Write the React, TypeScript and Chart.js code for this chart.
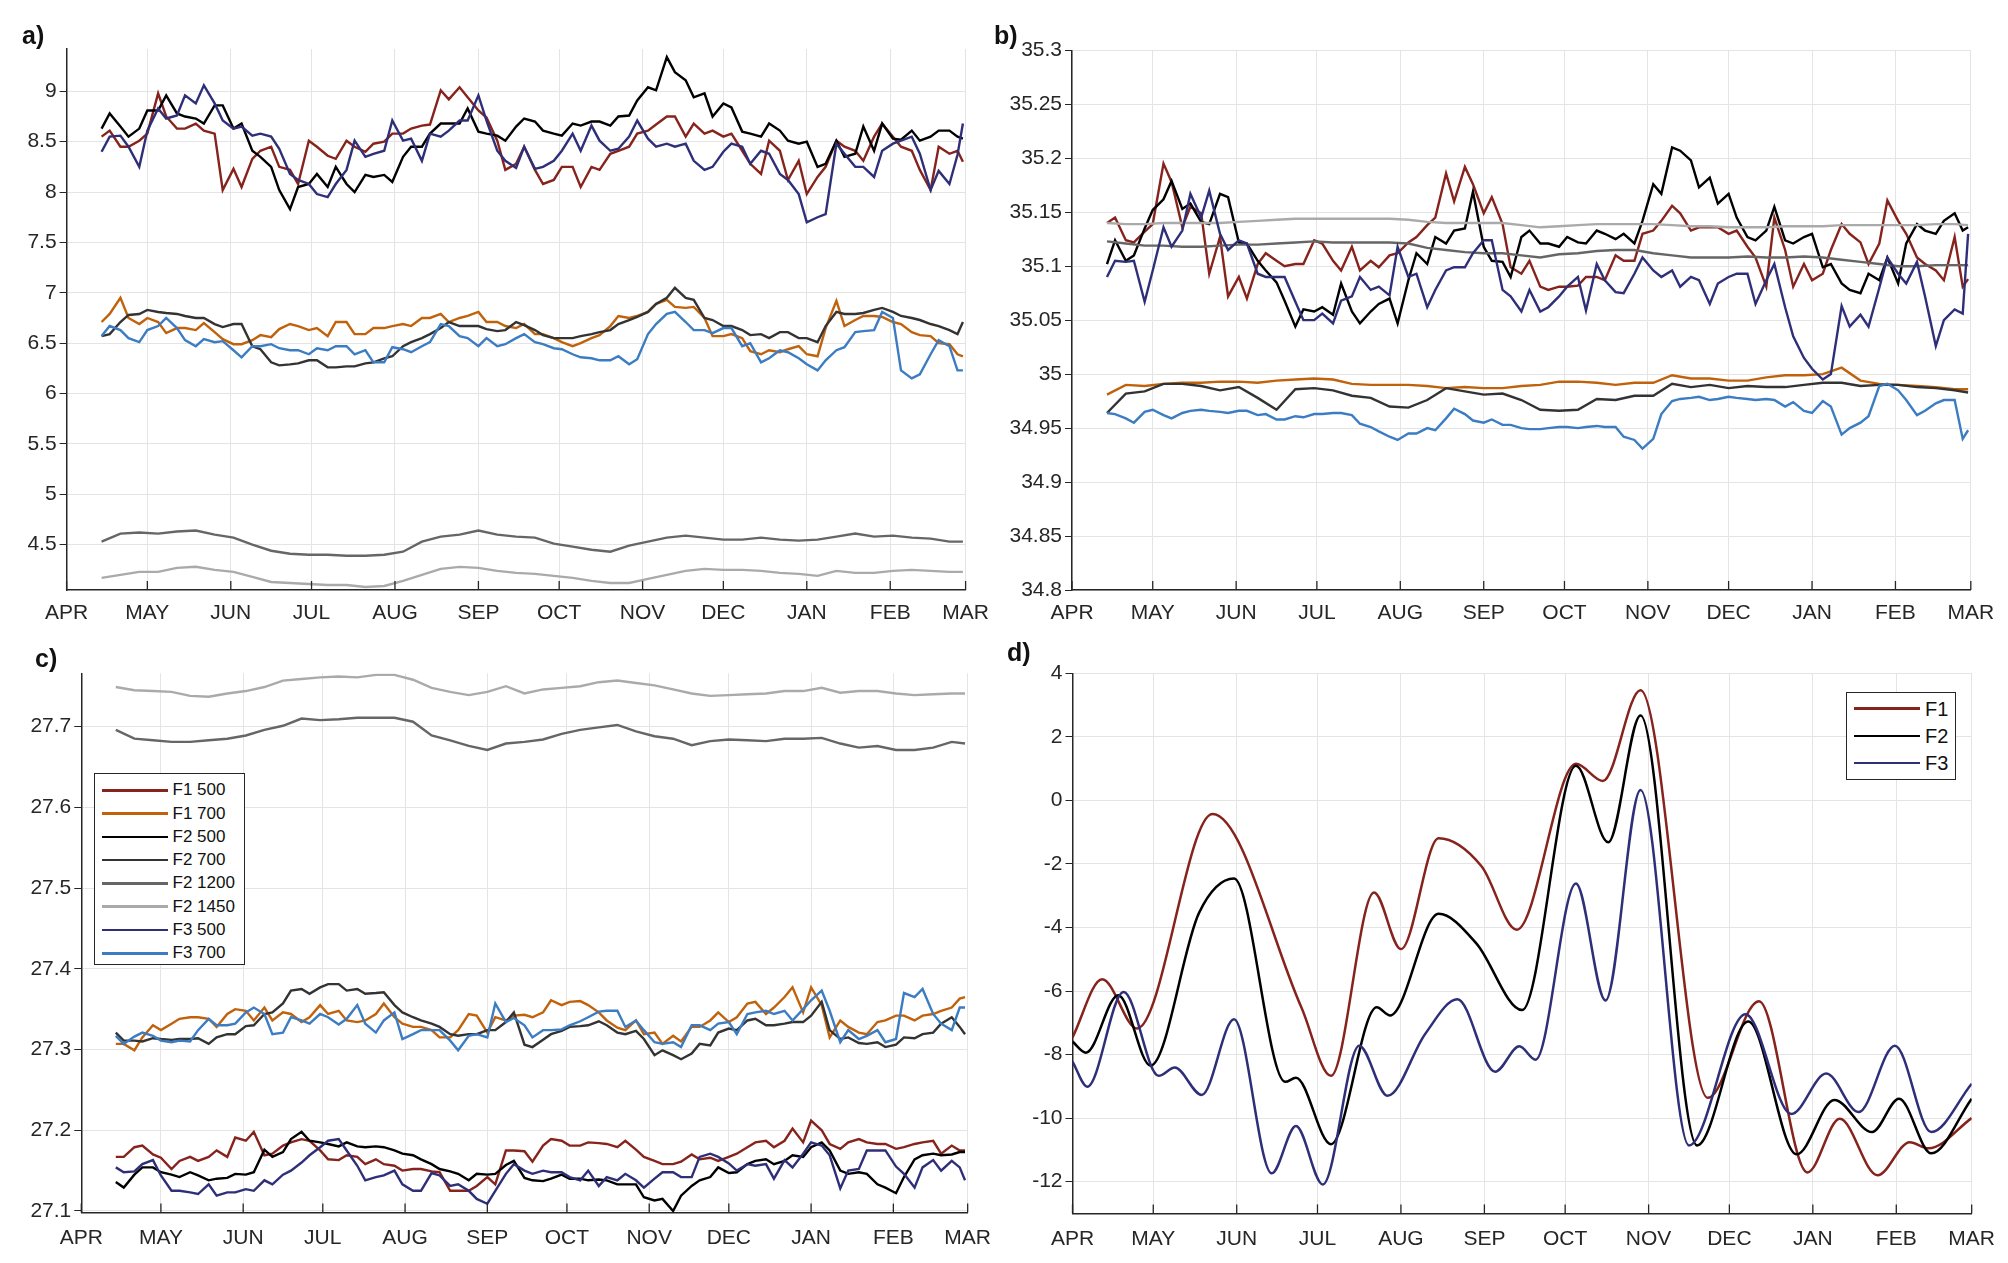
import React, { useEffect, useRef } from 'react';
import { Chart, registerables } from 'chart.js';

Chart.register(...registerables);

// x axis: days since 1 April, month starts as ticks
const MONTH_DAYS = [0, 30, 61, 91, 122, 153, 183, 214, 244, 275, 306, 334];
const MONTH_LABELS = ['APR', 'MAY', 'JUN', 'JUL', 'AUG', 'SEP', 'OCT', 'NOV', 'DEC', 'JAN', 'FEB', 'MAR'];

// weekly readings (smooth records) and twice-weekly readings (noisy records)
const DAYS = [13, 20, 27, 34, 41, 48, 55, 62, 69, 76, 83, 90, 97, 104, 111, 118, 125, 132, 139, 146, 153, 160, 167,
  174, 181, 188, 195, 202, 209, 216, 223, 230, 237, 244, 251, 258, 265, 272, 279, 286, 293, 300, 307, 314, 321, 328, 333];
const FINE_DAYS = [13, 16, 20, 23, 27, 30, 34, 37, 41, 44, 48, 51, 55, 58, 62, 65, 69, 72, 76, 79, 83, 86, 90, 93, 97, 100,
  104, 107, 111, 114, 118, 121, 125, 128, 132, 135, 139, 142, 146, 149, 153, 156, 160, 163, 167, 170, 174, 177, 181, 184,
  188, 191, 195, 198, 202, 205, 209, 212, 216, 219, 223, 226, 230, 233, 237, 240, 244, 247, 251, 254, 258, 261, 265, 268,
  272, 275, 279, 282, 286, 289, 293, 296, 300, 303, 307, 310, 314, 317, 321, 324, 328, 331, 333];

const SERIES_LABELS = ['F1 500', 'F1 700', 'F2 500', 'F2 700', 'F2 1200', 'F2 1450', 'F3 500', 'F3 700'];
const SERIES_COLORS = ['#86231c', '#c0620c', '#000000', '#333333', '#666666', '#aaaaaa', '#2e2f78', '#3b7cc2'];

// a) temperature
const A_F1_500 = [8.55, 8.61, 8.45, 8.45, 8.51, 8.58, 8.98, 8.75, 8.63, 8.63, 8.68, 8.61, 8.58, 8.02, 8.23, 8.05, 8.33, 8.41, 8.45, 8.25,
  8.22, 8.08, 8.51, 8.45, 8.36, 8.33, 8.51, 8.45, 8.40, 8.48, 8.50, 8.58, 8.58, 8.63, 8.66, 8.67, 9.01, 8.92, 9.04, 8.94,
  8.81, 8.74, 8.51, 8.22, 8.28, 8.45, 8.22, 8.08, 8.12, 8.25, 8.25, 8.05, 8.25, 8.22, 8.38, 8.41, 8.45, 8.58, 8.61, 8.67,
  8.75, 8.75, 8.55, 8.68, 8.58, 8.61, 8.55, 8.58, 8.41, 8.28, 8.18, 8.51, 8.41, 8.12, 8.31, 7.98, 8.15, 8.25, 8.51, 8.45,
  8.41, 8.31, 8.55, 8.68, 8.55, 8.45, 8.41, 8.22, 8.02, 8.45, 8.38, 8.41, 8.30];
const A_F1_700 = [6.71, 6.79, 6.95, 6.75, 6.69, 6.75, 6.71, 6.60, 6.65, 6.65, 6.63, 6.70, 6.61, 6.54, 6.49, 6.49, 6.53, 6.58, 6.56, 6.64,
  6.69, 6.67, 6.63, 6.65, 6.57, 6.71, 6.71, 6.59, 6.59, 6.65, 6.65, 6.67, 6.69, 6.67, 6.75, 6.75, 6.79, 6.71, 6.75, 6.77,
  6.81, 6.71, 6.71, 6.67, 6.65, 6.69, 6.59, 6.59, 6.55, 6.51, 6.47, 6.50, 6.55, 6.58, 6.67, 6.77, 6.75, 6.77, 6.81, 6.89,
  6.93, 6.86, 6.85, 6.86, 6.75, 6.57, 6.57, 6.59, 6.55, 6.42, 6.39, 6.43, 6.41, 6.44, 6.47, 6.39, 6.37, 6.65, 6.92, 6.67,
  6.73, 6.77, 6.77, 6.76, 6.71, 6.69, 6.61, 6.58, 6.57, 6.50, 6.49, 6.39, 6.37];
const A_F2_500 = [8.63, 8.78, 8.65, 8.55, 8.63, 8.81, 8.81, 8.96, 8.78, 8.75, 8.73, 8.68, 8.86, 8.86, 8.63, 8.68, 8.41, 8.35, 8.25, 8.02,
  7.83, 8.05, 8.08, 8.18, 8.05, 8.25, 8.08, 8.00, 8.17, 8.15, 8.17, 8.10, 8.35, 8.45, 8.45, 8.58, 8.68, 8.68, 8.68, 8.83,
  8.60, 8.58, 8.56, 8.51, 8.65, 8.73, 8.70, 8.61, 8.58, 8.56, 8.68, 8.66, 8.70, 8.70, 8.66, 8.75, 8.76, 8.91, 9.04, 9.01,
  9.34, 9.19, 9.11, 8.94, 8.98, 8.75, 8.88, 8.84, 8.60, 8.58, 8.55, 8.68, 8.61, 8.51, 8.48, 8.50, 8.25, 8.28, 8.51, 8.35,
  8.38, 8.65, 8.41, 8.68, 8.53, 8.52, 8.61, 8.51, 8.55, 8.61, 8.61, 8.55, 8.53];
const A_F2_700 = [6.57, 6.59, 6.71, 6.78, 6.79, 6.83, 6.81, 6.80, 6.79, 6.77, 6.75, 6.75, 6.69, 6.66, 6.69, 6.69, 6.47, 6.44, 6.31, 6.28,
  6.29, 6.30, 6.33, 6.33, 6.26, 6.26, 6.27, 6.27, 6.30, 6.31, 6.35, 6.37, 6.47, 6.51, 6.55, 6.59, 6.65, 6.71, 6.67, 6.67,
  6.67, 6.64, 6.62, 6.63, 6.71, 6.68, 6.63, 6.58, 6.55, 6.55, 6.55, 6.57, 6.59, 6.61, 6.63, 6.69, 6.73, 6.76, 6.81, 6.89,
  6.95, 7.05, 6.95, 6.93, 6.75, 6.73, 6.67, 6.67, 6.63, 6.58, 6.59, 6.55, 6.61, 6.61, 6.55, 6.55, 6.51, 6.67, 6.81, 6.79,
  6.79, 6.80, 6.83, 6.85, 6.81, 6.77, 6.75, 6.73, 6.69, 6.67, 6.63, 6.59, 6.71];
const A_F2_1200 = [4.53, 4.61, 4.62, 4.61, 4.63, 4.64, 4.60, 4.57, 4.50, 4.44, 4.41, 4.40, 4.40, 4.39, 4.39, 4.40, 4.43, 4.53, 4.58, 4.60, 4.64, 4.60, 4.58,
  4.57, 4.51, 4.48, 4.45, 4.43, 4.49, 4.53, 4.57, 4.59, 4.57, 4.55, 4.55, 4.57, 4.55, 4.54, 4.55, 4.58, 4.61, 4.58, 4.59, 4.57, 4.56, 4.53, 4.53];
const A_F2_1450 = [4.17, 4.20, 4.23, 4.23, 4.27, 4.28, 4.25, 4.23, 4.18, 4.13, 4.12, 4.11, 4.10, 4.10, 4.08, 4.09, 4.14, 4.20, 4.26, 4.28, 4.27, 4.24, 4.22,
  4.21, 4.19, 4.17, 4.14, 4.12, 4.12, 4.16, 4.20, 4.24, 4.26, 4.25, 4.25, 4.24, 4.22, 4.21, 4.19, 4.24, 4.22, 4.22, 4.24, 4.25, 4.24, 4.23, 4.23];
const A_F3_500 = [8.40, 8.55, 8.56, 8.45, 8.25, 8.61, 8.83, 8.73, 8.76, 8.96, 8.88, 9.06, 8.88, 8.71, 8.63, 8.65, 8.56, 8.58, 8.55, 8.43,
  8.18, 8.12, 8.08, 7.98, 7.95, 8.08, 8.22, 8.51, 8.35, 8.38, 8.41, 8.71, 8.51, 8.53, 8.31, 8.58, 8.55, 8.61, 8.71, 8.71,
  8.96, 8.71, 8.41, 8.31, 8.24, 8.45, 8.23, 8.25, 8.31, 8.41, 8.58, 8.41, 8.66, 8.51, 8.41, 8.43, 8.55, 8.71, 8.53, 8.45,
  8.48, 8.45, 8.48, 8.31, 8.22, 8.25, 8.40, 8.48, 8.45, 8.28, 8.41, 8.38, 8.18, 8.12, 7.98, 7.70, 7.75, 7.78, 8.48, 8.38,
  8.25, 8.25, 8.15, 8.41, 8.48, 8.51, 8.55, 8.38, 8.02, 8.21, 8.08, 8.37, 8.68];
const A_F3_700 = [6.57, 6.67, 6.63, 6.55, 6.51, 6.63, 6.67, 6.75, 6.65, 6.53, 6.47, 6.54, 6.51, 6.52, 6.43, 6.36, 6.47, 6.47, 6.49, 6.45,
  6.43, 6.43, 6.39, 6.45, 6.43, 6.47, 6.47, 6.39, 6.43, 6.31, 6.31, 6.46, 6.44, 6.41, 6.47, 6.51, 6.69, 6.67, 6.57, 6.55,
  6.47, 6.55, 6.47, 6.49, 6.55, 6.59, 6.51, 6.49, 6.45, 6.44, 6.39, 6.36, 6.35, 6.33, 6.33, 6.37, 6.29, 6.34, 6.59, 6.69,
  6.79, 6.81, 6.71, 6.63, 6.63, 6.60, 6.65, 6.65, 6.47, 6.50, 6.31, 6.35, 6.43, 6.41, 6.35, 6.29, 6.23, 6.33, 6.43, 6.46,
  6.61, 6.62, 6.63, 6.81, 6.75, 6.23, 6.15, 6.19, 6.39, 6.53, 6.47, 6.23, 6.23];

// b) salinity
const B_F1_500 = [35.140, 35.145, 35.124, 35.122, 35.132, 35.139, 35.195, 35.178, 35.136, 35.155, 35.149, 35.093, 35.127, 35.072, 35.090, 35.070, 35.102, 35.112, 35.105, 35.100,
  35.102, 35.102, 35.124, 35.121, 35.105, 35.096, 35.118, 35.096, 35.105, 35.099, 35.110, 35.112, 35.122, 35.127, 35.138, 35.145, 35.186, 35.160, 35.192, 35.176,
  35.149, 35.164, 35.139, 35.099, 35.093, 35.105, 35.081, 35.078, 35.081, 35.081, 35.082, 35.090, 35.090, 35.087, 35.110, 35.105, 35.105, 35.130, 35.133, 35.142,
  35.156, 35.149, 35.133, 35.136, 35.136, 35.136, 35.130, 35.133, 35.118, 35.108, 35.081, 35.145, 35.115, 35.081, 35.102, 35.087, 35.093, 35.115, 35.139, 35.130,
  35.122, 35.102, 35.121, 35.161, 35.142, 35.130, 35.108, 35.102, 35.096, 35.087, 35.127, 35.081, 35.088];
const B_F1_700 = [34.981, 34.990, 34.989, 34.991, 34.992, 34.992, 34.993, 34.993, 34.992, 34.994, 34.995, 34.996, 34.995, 34.991, 34.990, 34.990, 34.990, 34.989, 34.987, 34.988, 34.987, 34.987, 34.989,
  34.990, 34.993, 34.993, 34.992, 34.990, 34.992, 34.992, 34.999, 34.996, 34.996, 34.994, 34.994, 34.997, 34.999, 34.999, 35.000, 35.006, 34.994, 34.991, 34.990, 34.989, 34.988, 34.986, 34.986];
const B_F2_500 = [35.102, 35.124, 35.105, 35.110, 35.135, 35.152, 35.162, 35.179, 35.153, 35.158, 35.141, 35.139, 35.167, 35.164, 35.122, 35.121, 35.105, 35.096, 35.085, 35.068,
  35.044, 35.060, 35.058, 35.062, 35.055, 35.084, 35.058, 35.047, 35.058, 35.065, 35.070, 35.047, 35.087, 35.112, 35.102, 35.127, 35.121, 35.133, 35.135, 35.169,
  35.118, 35.105, 35.104, 35.090, 35.127, 35.133, 35.121, 35.121, 35.118, 35.127, 35.122, 35.121, 35.133, 35.130, 35.125, 35.130, 35.121, 35.142, 35.176, 35.167,
  35.210, 35.207, 35.198, 35.173, 35.182, 35.158, 35.167, 35.145, 35.127, 35.124, 35.133, 35.155, 35.124, 35.121, 35.127, 35.130, 35.099, 35.102, 35.084, 35.078,
  35.075, 35.093, 35.087, 35.108, 35.084, 35.121, 35.139, 35.133, 35.130, 35.142, 35.149, 35.133, 35.136];
const B_F2_700 = [34.964, 34.982, 34.984, 34.991, 34.991, 34.989, 34.985, 34.988, 34.978, 34.967, 34.986, 34.987, 34.985, 34.980, 34.978, 34.970, 34.969, 34.976, 34.987, 34.984, 34.981, 34.982, 34.976,
  34.967, 34.966, 34.967, 34.977, 34.976, 34.980, 34.980, 34.991, 34.988, 34.990, 34.987, 34.989, 34.988, 34.988, 34.990, 34.992, 34.992, 34.989, 34.990, 34.990, 34.988, 34.987, 34.985, 34.983];
const B_F2_1200 = [35.123, 35.121, 35.119, 35.119, 35.118, 35.118, 35.119, 35.120, 35.120, 35.121, 35.122, 35.123, 35.122, 35.122, 35.122, 35.122, 35.121, 35.117, 35.115, 35.113, 35.112, 35.112, 35.110,
  35.108, 35.111, 35.112, 35.114, 35.115, 35.115, 35.112, 35.110, 35.108, 35.108, 35.108, 35.109, 35.108, 35.108, 35.109, 35.108, 35.106, 35.104, 35.102, 35.100, 35.100, 35.101, 35.101, 35.101];
const B_F2_1450 = [35.140, 35.139, 35.139, 35.140, 35.140, 35.140, 35.140, 35.141, 35.142, 35.143, 35.144, 35.144, 35.144, 35.144, 35.144, 35.144, 35.143, 35.141, 35.140, 35.140, 35.140, 35.140, 35.138,
  35.136, 35.137, 35.138, 35.139, 35.139, 35.139, 35.139, 35.138, 35.137, 35.137, 35.136, 35.136, 35.136, 35.137, 35.137, 35.137, 35.138, 35.138, 35.138, 35.138, 35.138, 35.139, 35.139, 35.138];
const B_F3_500 = [35.090, 35.105, 35.104, 35.105, 35.067, 35.096, 35.136, 35.118, 35.133, 35.167, 35.145, 35.170, 35.130, 35.115, 35.124, 35.121, 35.093, 35.090, 35.090, 35.090,
  35.067, 35.050, 35.050, 35.056, 35.047, 35.068, 35.072, 35.090, 35.078, 35.081, 35.073, 35.118, 35.090, 35.093, 35.062, 35.078, 35.096, 35.099, 35.099, 35.112,
  35.124, 35.124, 35.078, 35.072, 35.058, 35.078, 35.058, 35.062, 35.072, 35.081, 35.090, 35.059, 35.102, 35.087, 35.076, 35.075, 35.093, 35.108, 35.096, 35.090,
  35.096, 35.081, 35.090, 35.087, 35.065, 35.084, 35.090, 35.093, 35.093, 35.065, 35.087, 35.102, 35.062, 35.035, 35.015, 35.005, 34.995, 35.000, 35.063, 35.044,
  35.055, 35.044, 35.080, 35.108, 35.093, 35.084, 35.104, 35.072, 35.026, 35.050, 35.060, 35.056, 35.130];
const B_F3_700 = [34.964, 34.963, 34.959, 34.955, 34.965, 34.967, 34.962, 34.959, 34.964, 34.966, 34.967, 34.966, 34.965, 34.964, 34.966, 34.966, 34.962, 34.963, 34.958, 34.958,
  34.961, 34.960, 34.963, 34.963, 34.964, 34.964, 34.962, 34.954, 34.951, 34.947, 34.942, 34.939, 34.945, 34.945, 34.950, 34.948, 34.959, 34.968, 34.963, 34.957,
  34.955, 34.958, 34.953, 34.953, 34.950, 34.949, 34.949, 34.950, 34.951, 34.951, 34.950, 34.951, 34.952, 34.951, 34.951, 34.942, 34.939, 34.931, 34.940, 34.963,
  34.975, 34.977, 34.978, 34.979, 34.976, 34.977, 34.979, 34.978, 34.977, 34.976, 34.977, 34.976, 34.970, 34.974, 34.966, 34.964, 34.975, 34.970, 34.944, 34.950,
  34.955, 34.961, 34.989, 34.991, 34.985, 34.976, 34.962, 34.966, 34.973, 34.976, 34.976, 34.940, 34.948];

// c) potential density
const C_F1_500 = [27.167, 27.167, 27.179, 27.181, 27.170, 27.166, 27.152, 27.162, 27.167, 27.162, 27.167, 27.175, 27.167, 27.191, 27.187, 27.198, 27.169, 27.171, 27.181, 27.185,
  27.189, 27.187, 27.175, 27.164, 27.163, 27.169, 27.167, 27.158, 27.164, 27.158, 27.156, 27.150, 27.152, 27.152, 27.149, 27.148, 27.125, 27.125, 27.125, 27.131,
  27.142, 27.133, 27.175, 27.175, 27.174, 27.161, 27.181, 27.189, 27.187, 27.181, 27.181, 27.185, 27.184, 27.183, 27.179, 27.187, 27.176, 27.167, 27.162, 27.158,
  27.158, 27.161, 27.170, 27.164, 27.166, 27.162, 27.167, 27.171, 27.179, 27.185, 27.187, 27.179, 27.187, 27.202, 27.185, 27.212, 27.200, 27.183, 27.177, 27.185,
  27.189, 27.185, 27.183, 27.183, 27.177, 27.179, 27.183, 27.185, 27.187, 27.171, 27.181, 27.175, 27.175];
const C_F1_700 = [27.307, 27.307, 27.299, 27.315, 27.330, 27.324, 27.332, 27.338, 27.340, 27.340, 27.338, 27.328, 27.344, 27.350, 27.348, 27.336, 27.352, 27.336, 27.346, 27.344,
  27.334, 27.340, 27.355, 27.344, 27.348, 27.336, 27.334, 27.336, 27.344, 27.357, 27.340, 27.332, 27.328, 27.328, 27.324, 27.315, 27.315, 27.324, 27.344, 27.342,
  27.321, 27.340, 27.336, 27.342, 27.343, 27.340, 27.346, 27.361, 27.355, 27.359, 27.360, 27.355, 27.346, 27.336, 27.327, 27.324, 27.336, 27.319, 27.321, 27.307,
  27.317, 27.310, 27.328, 27.328, 27.336, 27.346, 27.334, 27.340, 27.357, 27.359, 27.344, 27.352, 27.365, 27.377, 27.346, 27.377, 27.355, 27.315, 27.336, 27.328,
  27.321, 27.319, 27.334, 27.336, 27.342, 27.342, 27.336, 27.342, 27.344, 27.348, 27.352, 27.363, 27.365];
const C_F2_500 = [27.136, 27.129, 27.145, 27.154, 27.154, 27.148, 27.145, 27.142, 27.148, 27.144, 27.138, 27.140, 27.141, 27.146, 27.145, 27.148, 27.176, 27.167, 27.173, 27.189,
  27.198, 27.187, 27.185, 27.183, 27.180, 27.185, 27.180, 27.179, 27.180, 27.179, 27.175, 27.171, 27.169, 27.164, 27.158, 27.152, 27.149, 27.146, 27.138, 27.146,
  27.145, 27.146, 27.157, 27.162, 27.141, 27.138, 27.137, 27.140, 27.145, 27.140, 27.140, 27.138, 27.139, 27.138, 27.133, 27.133, 27.133, 27.117, 27.113, 27.115,
  27.100, 27.119, 27.131, 27.138, 27.142, 27.154, 27.147, 27.148, 27.158, 27.162, 27.164, 27.158, 27.162, 27.169, 27.167, 27.179, 27.185, 27.175, 27.150, 27.146,
  27.148, 27.146, 27.133, 27.129, 27.122, 27.142, 27.164, 27.169, 27.171, 27.169, 27.170, 27.173, 27.173];
const C_F2_700 = [27.321, 27.311, 27.311, 27.310, 27.314, 27.313, 27.312, 27.313, 27.313, 27.314, 27.307, 27.315, 27.319, 27.319, 27.329, 27.330, 27.344, 27.346, 27.357, 27.373,
  27.375, 27.369, 27.377, 27.381, 27.381, 27.373, 27.375, 27.369, 27.370, 27.371, 27.355, 27.346, 27.340, 27.336, 27.332, 27.328, 27.319, 27.317, 27.319, 27.319,
  27.324, 27.324, 27.334, 27.346, 27.306, 27.303, 27.312, 27.319, 27.323, 27.328, 27.329, 27.330, 27.335, 27.330, 27.321, 27.319, 27.323, 27.313, 27.293, 27.299,
  27.293, 27.288, 27.295, 27.307, 27.305, 27.321, 27.326, 27.324, 27.336, 27.338, 27.330, 27.330, 27.332, 27.334, 27.334, 27.342, 27.359, 27.324, 27.313, 27.315,
  27.308, 27.307, 27.309, 27.303, 27.306, 27.315, 27.314, 27.319, 27.321, 27.332, 27.340, 27.328, 27.319];
const C_F2_1200 = [27.696, 27.685, 27.683, 27.681, 27.681, 27.683, 27.685, 27.689, 27.696, 27.701, 27.710, 27.708, 27.709, 27.711, 27.711, 27.711, 27.706, 27.689, 27.683, 27.676, 27.671, 27.679, 27.681,
  27.684, 27.691, 27.696, 27.699, 27.702, 27.694, 27.688, 27.685, 27.677, 27.682, 27.684, 27.683, 27.682, 27.685, 27.685, 27.686, 27.679, 27.674, 27.676, 27.671, 27.671, 27.674, 27.681, 27.679];
const C_F2_1450 = [27.749, 27.745, 27.744, 27.743, 27.738, 27.737, 27.741, 27.744, 27.749, 27.757, 27.759, 27.761, 27.762, 27.761, 27.764, 27.764, 27.758, 27.748, 27.743, 27.739, 27.743, 27.750, 27.741,
  27.746, 27.748, 27.750, 27.755, 27.757, 27.754, 27.751, 27.746, 27.741, 27.738, 27.739, 27.740, 27.741, 27.744, 27.744, 27.748, 27.742, 27.744, 27.744, 27.741, 27.739, 27.740, 27.741, 27.741];
const C_F3_500 = [27.154, 27.148, 27.149, 27.158, 27.163, 27.144, 27.125, 27.125, 27.123, 27.121, 27.133, 27.119, 27.123, 27.123, 27.127, 27.125, 27.138, 27.133, 27.145, 27.150,
  27.160, 27.169, 27.179, 27.187, 27.189, 27.175, 27.156, 27.138, 27.142, 27.144, 27.150, 27.133, 27.125, 27.125, 27.147, 27.144, 27.131, 27.133, 27.125, 27.115,
  27.109, 27.125, 27.146, 27.158, 27.150, 27.146, 27.150, 27.148, 27.148, 27.142, 27.138, 27.150, 27.131, 27.142, 27.138, 27.146, 27.138, 27.129, 27.140, 27.148,
  27.148, 27.142, 27.142, 27.167, 27.171, 27.167, 27.159, 27.150, 27.158, 27.156, 27.158, 27.140, 27.163, 27.154, 27.171, 27.185, 27.181, 27.169, 27.128, 27.150,
  27.152, 27.175, 27.175, 27.175, 27.155, 27.146, 27.129, 27.154, 27.163, 27.150, 27.162, 27.154, 27.138];
const C_F3_700 = [27.317, 27.307, 27.316, 27.321, 27.317, 27.311, 27.309, 27.311, 27.310, 27.324, 27.338, 27.330, 27.330, 27.332, 27.346, 27.352, 27.344, 27.319, 27.321, 27.340,
  27.336, 27.332, 27.344, 27.340, 27.331, 27.338, 27.355, 27.332, 27.321, 27.336, 27.346, 27.313, 27.319, 27.324, 27.324, 27.324, 27.311, 27.299, 27.317, 27.319,
  27.315, 27.357, 27.334, 27.339, 27.330, 27.315, 27.324, 27.324, 27.325, 27.330, 27.335, 27.340, 27.347, 27.348, 27.348, 27.328, 27.336, 27.324, 27.309, 27.307,
  27.309, 27.303, 27.330, 27.330, 27.324, 27.332, 27.334, 27.319, 27.344, 27.346, 27.348, 27.344, 27.348, 27.336, 27.350, 27.361, 27.373, 27.348, 27.309, 27.324,
  27.313, 27.317, 27.324, 27.309, 27.313, 27.370, 27.365, 27.375, 27.344, 27.332, 27.324, 27.352, 27.352];

// d) smoothed index per mooring (turning points)
const D_LABELS = ['F1', 'F2', 'F3'];
const D_COLORS = ['#86231c', '#000000', '#2e2f78'];
const D_F1_DAYS = [0, 11, 24, 52, 85, 96, 112, 122, 136, 152, 165, 187, 197, 211, 236, 255, 273, 285, 299, 311, 318, 334];
const D_F1_VALS = [-7.46, -5.63, -7.18, -0.43, -6.51, -8.67, -2.9, -4.68, -1.19, -2.08, -4.07, 1.15, 0.61, 3.47, -9.36, -6.32, -11.71, -10.02, -11.8, -10.76, -10.95, -10.0];
const D_F2_DAYS = [0, 5, 17, 29, 47, 60, 79, 83, 96, 113, 118, 136, 150, 167, 187, 199, 211, 232, 251, 269, 283, 297, 307, 319, 334];
const D_F2_VALS = [-7.59, -7.94, -6.13, -8.35, -3.54, -2.46, -8.86, -8.73, -10.82, -6.51, -6.77, -3.57, -4.5, -6.6, 1.09, -1.32, 2.67, -10.86, -6.96, -11.14, -9.43, -10.44, -9.39, -11.11, -9.39];
const D_F3_DAYS = [0, 5.5, 19, 32, 38, 48, 60, 74, 83, 93, 106.5, 117, 131, 143, 157, 166, 172, 187, 198, 211, 229, 250, 267, 280, 292, 305.5, 319, 334];
const D_F3_VALS = [-8.22, -9.01, -6.03, -8.67, -8.41, -9.27, -6.89, -11.74, -10.25, -12.09, -7.72, -9.30, -7.35, -6.26, -8.54, -7.74, -8.16, -2.62, -6.30, 0.33, -10.86, -6.73, -9.87, -8.6, -9.81, -7.72, -10.44, -8.92];

const A_TICKS = [4.5, 5, 5.5, 6, 6.5, 7, 7.5, 8, 8.5, 9];
const A_TICK_LABELS = ['4.5', '5', '5.5', '6', '6.5', '7', '7.5', '8', '8.5', '9'];
const B_TICKS = [34.8, 34.85, 34.9, 34.95, 35, 35.05, 35.1, 35.15, 35.2, 35.25, 35.3];
const B_TICK_LABELS = ['34.8', '34.85', '34.9', '34.95', '35', '35.05', '35.1', '35.15', '35.2', '35.25', '35.3'];
const C_TICKS = [27.1, 27.2, 27.3, 27.4, 27.5, 27.6, 27.7];
const C_TICK_LABELS = ['27.1', '27.2', '27.3', '27.4', '27.5', '27.6', '27.7'];
const D_TICKS = [-12, -10, -8, -6, -4, -2, 0, 2, 4];
const D_TICK_LABELS = ['-12', '-10', '-8', '-6', '-4', '-2', '0', '2', '4'];

const FONT = '"Liberation Sans", Arial, Helvetica, sans-serif';
const AXIS_COLOR = '#262626';
const GRID_COLOR = '#e4e4e4';

type Series = [number[], number[]];

const mooringSets = (series: Series[]) =>
  series.map(([days, vals], i) => ({
    label: SERIES_LABELS[i],
    data: vals.map((v, j) => ({ x: days[j], y: v })),
    borderColor: SERIES_COLORS[i],
    backgroundColor: SERIES_COLORS[i],
    borderWidth: 2.4,
    pointRadius: 0,
    tension: 0,
    order: series.length - i,
  }));

const smoothSets = () =>
  ([[D_F1_DAYS, D_F1_VALS], [D_F2_DAYS, D_F2_VALS], [D_F3_DAYS, D_F3_VALS]] as Series[]).map(([days, vals], i) => ({
    label: D_LABELS[i],
    data: vals.map((v, j) => ({ x: days[j], y: v })),
    borderColor: D_COLORS[i],
    backgroundColor: D_COLORS[i],
    borderWidth: 2.5,
    pointRadius: 0,
    cubicInterpolationMode: 'monotone' as const,
    order: 3 - i,
  }));

// month ticks point into the plot, like the original figure
const innerTicks = {
  id: 'innerTicks',
  afterDraw(chart: any) {
    const { ctx, chartArea, scales } = chart;
    const xs = scales.x;
    ctx.save();
    ctx.strokeStyle = AXIS_COLOR;
    ctx.lineWidth = 1.3;
    xs.ticks.forEach((t: any) => {
      const px = xs.getPixelForValue(t.value);
      ctx.beginPath();
      ctx.moveTo(px, chartArea.bottom);
      ctx.lineTo(px, chartArea.bottom - 9);
      ctx.stroke();
    });
    ctx.restore();
  },
};

interface PanelProps {
  left: number;
  top: number;
  width: number;
  height: number;
  plot: { left: number; top: number; right: number; bottom: number };
  datasets: any[];
  yMin: number;
  yMax: number;
  yTicks: number[];
  yLabels: string[];
  xPad: number;
}

const Panel: React.FC<PanelProps> = ({ left, top, width, height, plot, datasets, yMin, yMax, yTicks, yLabels, xPad }) => {
  const canvasRef = useRef<HTMLCanvasElement>(null);

  useEffect(() => {
    if (!canvasRef.current) return;
    const ctx = canvasRef.current.getContext('2d');
    if (!ctx) return;

    const tickFont = { family: FONT, size: 21 };
    const chart = new Chart(ctx, {
      type: 'line',
      data: { datasets },
      options: {
        animation: false,
        responsive: false,
        layout: { padding: { left: 0, top: plot.top, right: width - plot.right, bottom: 0 } },
        plugins: { legend: { display: false }, tooltip: { enabled: false } },
        scales: {
          x: {
            type: 'linear',
            min: 0,
            max: 334,
            afterBuildTicks: (s: any) => {
              s.ticks = MONTH_DAYS.map((v) => ({ value: v }));
            },
            afterFit: (s: any) => {
              s.height = height - plot.bottom;
            },
            ticks: {
              autoSkip: false,
              maxRotation: 0,
              padding: xPad,
              color: AXIS_COLOR,
              font: tickFont,
              callback: (_v: any, i: number) => MONTH_LABELS[i],
            },
            grid: { color: GRID_COLOR, lineWidth: 1, drawTicks: false },
            border: { display: true, color: AXIS_COLOR, width: 1.5 },
          },
          y: {
            type: 'linear',
            min: yMin,
            max: yMax,
            afterBuildTicks: (s: any) => {
              s.ticks = yTicks.map((v) => ({ value: v }));
            },
            afterFit: (s: any) => {
              s.width = plot.left;
            },
            ticks: {
              padding: 3,
              color: AXIS_COLOR,
              font: tickFont,
              callback: (_v: any, i: number) => yLabels[i],
            },
            grid: { color: GRID_COLOR, lineWidth: 1, drawTicks: true, tickLength: 7, tickColor: AXIS_COLOR },
            border: { display: true, color: AXIS_COLOR, width: 1.5 },
          },
        },
      } as any,
      plugins: [innerTicks],
    });

    return () => {
      chart.destroy();
    };
  }, []);

  return (
    <canvas
      ref={canvasRef}
      width={width}
      height={height}
      style={{ position: 'absolute', left, top, width, height }}
    />
  );
};

const PanelLabel: React.FC<{ text: string; left: number; top: number }> = ({ text, left, top }) => (
  <div
    style={{
      position: 'absolute',
      left,
      top,
      fontFamily: FONT,
      fontWeight: 'bold',
      fontSize: 25,
      lineHeight: '25px',
      color: '#111',
    }}
  >
    {text}
  </div>
);

interface LegendProps {
  left: number;
  top: number;
  width: number;
  height: number;
  labels: string[];
  colors: string[];
  firstRow: number;
  rowStep: number;
  fontSize: number;
}

const BoxLegend: React.FC<LegendProps> = ({ left, top, width, height, labels, colors, firstRow, rowStep, fontSize }) => (
  <div
    style={{
      position: 'absolute',
      left,
      top,
      width,
      height,
      boxSizing: 'border-box',
      border: `1.3px solid ${AXIS_COLOR}`,
      background: '#fff',
      fontFamily: FONT,
      fontSize,
      color: '#111',
    }}
  >
    {labels.map((label, i) => (
      <div
        key={label}
        style={{
          position: 'absolute',
          left: 7,
          top: firstRow + i * rowStep - 12,
          height: 24,
          display: 'flex',
          alignItems: 'center',
          whiteSpace: 'nowrap',
        }}
      >
        <span style={{ display: 'inline-block', width: 66, height: 2.6, background: colors[i] }} />
        <span style={{ marginLeft: 5, lineHeight: '24px' }}>{label}</span>
      </div>
    ))}
  </div>
);

export default function App() {
  return (
    <div style={{ position: 'absolute', left: 0, top: 0, width: 2008, height: 1263, background: '#fff', overflow: 'hidden' }}>
      <Panel
        left={0}
        top={0}
        width={1004}
        height={631}
        plot={{ left: 66.6, top: 49, right: 965.6, bottom: 590 }}
        datasets={mooringSets([
          [FINE_DAYS, A_F1_500], [FINE_DAYS, A_F1_700], [FINE_DAYS, A_F2_500], [FINE_DAYS, A_F2_700],
          [DAYS, A_F2_1200], [DAYS, A_F2_1450], [FINE_DAYS, A_F3_500], [FINE_DAYS, A_F3_700],
        ])}
        yMin={4.05}
        yMax={9.42}
        yTicks={A_TICKS}
        yLabels={A_TICK_LABELS}
        xPad={11}
      />
      <Panel
        left={1004}
        top={0}
        width={1004}
        height={631}
        plot={{ left: 68, top: 50.3, right: 966.8, bottom: 590 }}
        datasets={mooringSets([
          [FINE_DAYS, B_F1_500], [DAYS, B_F1_700], [FINE_DAYS, B_F2_500], [DAYS, B_F2_700],
          [DAYS, B_F2_1200], [DAYS, B_F2_1450], [FINE_DAYS, B_F3_500], [FINE_DAYS, B_F3_700],
        ])}
        yMin={34.8}
        yMax={35.3}
        yTicks={B_TICKS}
        yLabels={B_TICK_LABELS}
        xPad={11}
      />
      <Panel
        left={0}
        top={631}
        width={1004}
        height={632}
        plot={{ left: 81.3, top: 42.3, right: 981, bottom: 581.6 }}
        datasets={mooringSets([
          [FINE_DAYS, C_F1_500], [FINE_DAYS, C_F1_700], [FINE_DAYS, C_F2_500], [FINE_DAYS, C_F2_700],
          [DAYS, C_F2_1200], [DAYS, C_F2_1450], [FINE_DAYS, C_F3_500], [FINE_DAYS, C_F3_700],
        ])}
        yMin={27.098}
        yMax={27.766}
        yTicks={C_TICKS}
        yLabels={C_TICK_LABELS}
        xPad={13}
      />
      <Panel
        left={1004}
        top={631}
        width={1004}
        height={632}
        plot={{ left: 68.5, top: 42.3, right: 968, bottom: 582.4 }}
        datasets={smoothSets()}
        yMin={-13}
        yMax={4}
        yTicks={D_TICKS}
        yLabels={D_TICK_LABELS}
        xPad={13}
      />
      <PanelLabel text="a)" left={22} top={23} />
      <PanelLabel text="b)" left={994} top={23} />
      <PanelLabel text="c)" left={35} top={646} />
      <PanelLabel text="d)" left={1007} top={640} />
      <BoxLegend
        left={93.5}
        top={773}
        width={151}
        height={192}
        labels={SERIES_LABELS}
        colors={SERIES_COLORS}
        firstRow={16.4}
        rowStep={23.26}
        fontSize={17}
      />
      <BoxLegend
        left={1846}
        top={691.5}
        width={110}
        height={88}
        labels={D_LABELS}
        colors={D_COLORS}
        firstRow={16.1}
        rowStep={27.2}
        fontSize={20}
      />
    </div>
  );
}
